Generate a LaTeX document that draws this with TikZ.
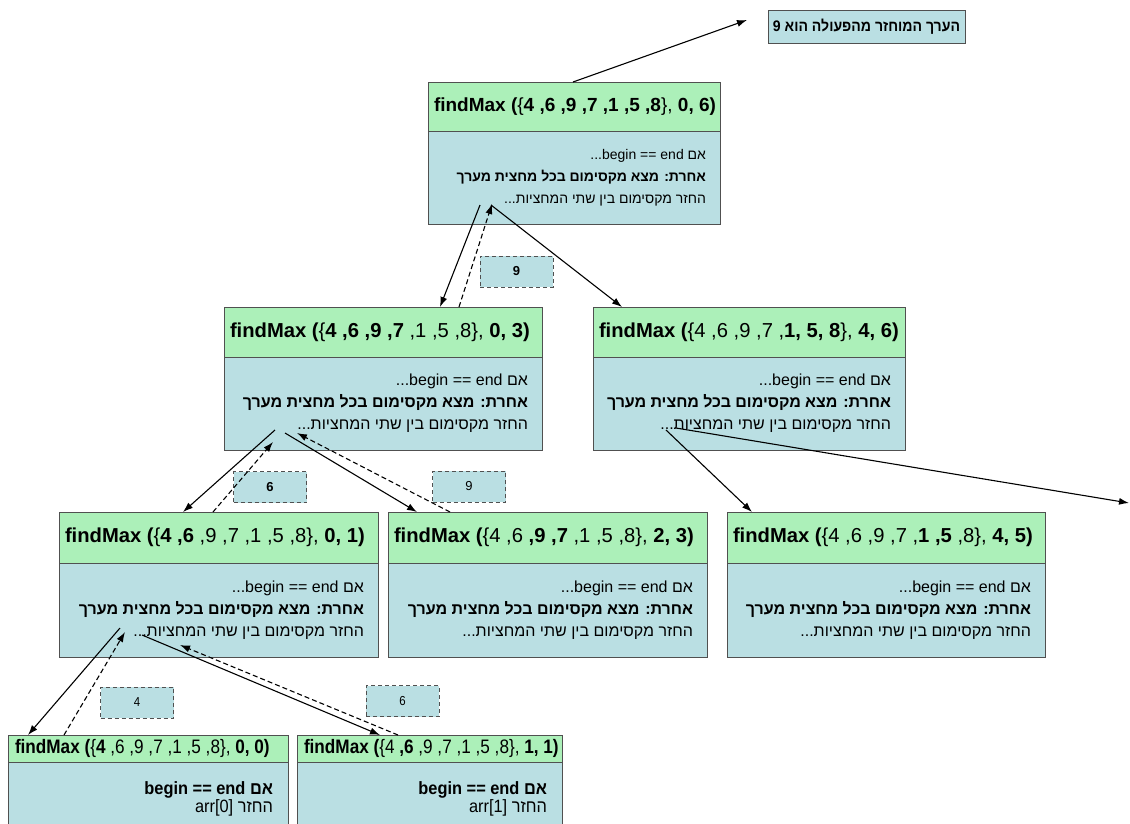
\documentclass[tikz,border=0pt]{standalone}
\usepackage{fontspec}
\setmainfont{Liberation Sans}
\newfontfamily\heb[Script=Hebrew]{Liberation Sans}
\newfontfamily\hebn[Script=Hebrew,FakeStretch=0.92]{Liberation Sans}
\newfontfamily\latn[FakeStretch=0.88]{Liberation Sans}
\TeXXeTstate=1
\usetikzlibrary{arrows.meta}
\definecolor{hdrgreen}{RGB}{172,240,185}
\definecolor{bodyblue}{RGB}{186,223,227}
\definecolor{edgegray}{RGB}{80,80,80}

\begin{document}
\begin{tikzpicture}[x=1pt,y=-1pt,
    callbox/.style={draw=edgegray,line width=0.8pt,anchor=north west,inner ysep=0pt,outer sep=0pt},
    hdr/.style={callbox,fill=hdrgreen,inner xsep=6pt,align=flush left,font=\fontsize{20.2}{22}\selectfont},
    bdy/.style={callbox,fill=bodyblue,inner xsep=14pt,align=flush right,font=\heb\fontsize{16}{22}\selectfont},
    hdrn/.style={hdr,inner xsep=7pt,font=\latn\fontsize{19.5}{20}\selectfont},
    bdyn/.style={bdy,inner xsep=15pt,font=\hebn\fontsize{17.8}{18}\selectfont},
    val/.style={draw=edgegray,line width=0.8pt,dash pattern=on 4pt off 3pt,fill=bodyblue,minimum width=73pt,minimum height=31pt,inner sep=0pt,font=\fontsize{13}{15}\selectfont},
    call/.style={-{Latex[length=10pt,width=7pt]},line width=1.1pt},
    ret/.style={call,dash pattern=on 5pt off 3pt}]
        \useasboundingbox (0,0) rectangle (1130,823);
        \clip (0,0) rectangle (1130,823);

        \node[hdr,text width=280pt,minimum height=49pt,font=\fontsize{19}{21}\selectfont] (top) at (428,82)
            {\mbox{\textbf{findMax (}\{\textbf{4 ,6 ,9 ,7 ,1 ,5 ,8}\}, \textbf{0, 6)}}};
        \node[bdy,text width=264pt,minimum height=93pt,font=\heb\fontsize{14}{22}\selectfont] (topb) at (428,131)
            {\beginR אם \beginL begin == end\endL...\endR\\
             \textbf{\beginR אחרת: מצא מקסימום בכל מחצית מערך\endR}\\
             \beginR החזר מקסימום בין שתי המחציות...\endR};

        \node[hdr,text width=306pt,minimum height=50pt] (ml) at (224,307)
            {\mbox{\textbf{findMax (}\{\textbf{4 ,6 ,9 ,7} ,1 ,5 ,8\}, \textbf{0, 3)}}};
        \node[bdy,text width=290pt,minimum height=93pt] (mlb) at (224,357)
            {\beginR אם \beginL begin == end\endL...\endR\\
             \textbf{\beginR אחרת: מצא מקסימום בכל מחצית מערך\endR}\\
             \beginR החזר מקסימום בין שתי המחציות...\endR};

        \node[hdr,text width=300pt,minimum height=50pt] (mr) at (593,307)
            {\mbox{\textbf{findMax (}\{4 ,6 ,9 ,7 ,\textbf{1, 5, 8}\}, \textbf{4, 6)}}};
        \node[bdy,text width=284pt,minimum height=93pt] (mrb) at (593,357)
            {\beginR אם \beginL begin == end\endL...\endR\\
             \textbf{\beginR אחרת: מצא מקסימום בכל מחצית מערך\endR}\\
             \beginR החזר מקסימום בין שתי המחציות...\endR};

        \node[hdr,text width=307pt,minimum height=51pt] (bl) at (59,512)
            {\mbox{\textbf{findMax (}\{\textbf{4 ,6} ,9 ,7 ,1 ,5 ,8\}, \textbf{0, 1)}}};
        \node[bdy,text width=291pt,minimum height=94pt] (blb) at (59,563)
            {\beginR אם \beginL begin == end\endL...\endR\\
             \textbf{\beginR אחרת: מצא מקסימום בכל מחצית מערך\endR}\\
             \beginR החזר מקסימום בין שתי המחציות...\endR};

        \node[hdr,text width=307pt,minimum height=51pt] (bm) at (388,512)
            {\mbox{\textbf{findMax (}\{4 ,6 \textbf{,9 ,7} ,1 ,5 ,8\}, \textbf{2, 3)}}};
        \node[bdy,text width=291pt,minimum height=94pt] (bmb) at (388,563)
            {\beginR אם \beginL begin == end\endL...\endR\\
             \textbf{\beginR אחרת: מצא מקסימום בכל מחצית מערך\endR}\\
             \beginR החזר מקסימום בין שתי המחציות...\endR};

        \node[hdr,text width=306pt,minimum height=51pt] (br) at (727,512)
            {\mbox{\textbf{findMax (}\{4 ,6 ,9 ,7 ,\textbf{1 ,5} ,8\}, \textbf{4, 5)}}};
        \node[bdy,text width=290pt,minimum height=94pt] (brb) at (727,563)
            {\beginR אם \beginL begin == end\endL...\endR\\
             \textbf{\beginR אחרת: מצא מקסימום בכל מחצית מערך\endR}\\
             \beginR החזר מקסימום בין שתי המחציות...\endR};

        \node[hdrn,text width=266pt,minimum height=27pt] (ll) at (8,735)
            {\mbox{\textbf{findMax (}\{\textbf{4} ,6 ,9 ,7 ,1 ,5 ,8\}, \textbf{0, 0)}}};
        \node[bdyn,text width=250pt,minimum height=73pt] (llb) at (8,762)
            {\textbf{\beginR אם \beginL begin == end\endL\endR}\\
             \beginR החזר \beginL arr[0]\endL\endR};

        \node[hdrn,text width=251pt,minimum height=27pt] (lr) at (297,735)
            {\mbox{\textbf{findMax (}\{4 \textbf{,6} ,9 ,7 ,1 ,5 ,8\}, \textbf{1, 1)}}};
        \node[bdyn,text width=235pt,minimum height=73pt] (lrb) at (297,762)
            {\textbf{\beginR אם \beginL begin == end\endL\endR}\\
             \beginR החזר \beginL arr[1]\endL\endR};

        \node[callbox,fill=bodyblue,minimum width=197pt,minimum height=33pt,inner xsep=0pt,font=\hebn\bfseries\fontsize{15.3}{18}\selectfont] (res) at (768,10)
            {\beginR הערך המוחזר מהפעולה הוא 9\endR};

        \node[val,font=\bfseries\fontsize{13}{15}\selectfont] (v9a) at (516.5,271.5) {9};
        \node[val,font=\bfseries\fontsize{13}{15}\selectfont] (v6a) at (270,487) {6};
        \node[val] (v9b) at (469,486.5) {9};
        \node[val,font=\latn\fontsize{13}{15}\selectfont] (v4) at (137,702.5) {4};
        \node[val,font=\latn\fontsize{13}{15}\selectfont] (v6b) at (402.5,701) {6};

        \coordinate (resin) at (747,20);
        \coordinate (ta) at (480,205);
        \coordinate (tb) at (492,204);
        \coordinate (tc) at (491,205);
        \coordinate (mla) at (275,430);
        \coordinate (mlb-in) at (273,442);
        \coordinate (mlc) at (285,433);
        \coordinate (mld) at (297,433);
        \coordinate (mra) at (666,430);
        \coordinate (mrb-out) at (676,428);
        \coordinate (offpage) at (1129,503);
        \coordinate (bla) at (120,628);
        \coordinate (blb-in) at (125,632);
        \coordinate (blc) at (142,635);
        \coordinate (bld) at (180,645);

        \draw[call] ([xshift=145pt]top.north west) -- (resin);
        \draw[call] (ta) -- ([xshift=216pt]ml.north west);
        \draw[ret] ([xshift=235pt]ml.north west) -- (tb);
        \draw[call] (tc) -- ([xshift=29pt]mr.north west);
        \draw[call] (mla) -- ([xshift=124pt]bl.north west);
        \draw[ret] ([xshift=154pt]bl.north west) -- (mlb-in);
        \draw[call] (mlc) -- ([xshift=29pt]bm.north west);
        \draw[ret] ([xshift=62pt]bm.north west) -- (mld);
        \draw[call] (mra) -- ([xshift=25pt]br.north west);
        \draw[call] (mrb-out) -- (offpage);
        \draw[call] (bla) -- ([xshift=20pt]ll.north west);
        \draw[ret] ([xshift=56pt]ll.north west) -- (blb-in);
        \draw[call] (blc) -- ([xshift=83pt]lr.north west);
        \draw[ret] ([xshift=101pt]lr.north west) -- (bld);
\end{tikzpicture}
\end{document}
